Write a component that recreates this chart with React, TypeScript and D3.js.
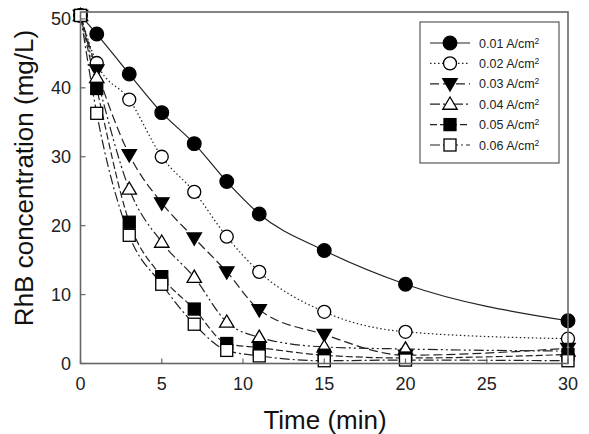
import React from "react";
import * as d3 from "d3";

// Sampling times (min)
const times = [0, 1, 3, 5, 7, 9, 11, 15, 20, 30];

// RhB concentration (mg/L) for each current density
const labels = ["0.01", "0.02", "0.03", "0.04", "0.05", "0.06"];
const s001 = [50.5, 47.8, 42.0, 36.4, 31.9, 26.4, 21.7, 16.4, 11.5, 6.2];
const s002 = [50.5, 43.6, 38.3, 30.0, 24.9, 18.4, 13.3, 7.5, 4.6, 3.6];
const s003 = [50.5, 42.6, 30.3, 23.3, 18.2, 13.3, 7.8, 4.2, 1.2, 2.2];
const s004 = [50.5, 41.5, 25.3, 17.6, 12.5, 6.0, 3.8, 2.4, 2.1, 1.8];
const s005 = [50.5, 39.9, 20.5, 12.6, 7.9, 2.9, 2.3, 1.2, 0.8, 1.3];
const s006 = [50.5, 36.3, 18.6, 11.5, 5.7, 1.9, 1.1, 0.4, 0.5, 0.4];
const seriesValues = [s001, s002, s003, s004, s005, s006];

const xTicks = [0, 5, 10, 15, 20, 25, 30];
const yTicks = [0, 10, 20, 30, 40, 50];

type MarkerKind = "circleFilled" | "circleOpen" | "triDown" | "triUp" | "squareFilled" | "squareOpen";
const markers: MarkerKind[] = ["circleFilled", "circleOpen", "triDown", "triUp", "squareFilled", "squareOpen"];
const dashes = ["", "1.5,2.5", "9,4", "10,3,2,3,2,3", "7,3", "10,3,2,3"];

const W = 589;
const H = 434;
const left = 80.5;
const right = 568;
const top = 12;
const bottom = 363.5;

const x = d3.scaleLinear().domain([0, 30]).range([left, right]);
const y = d3.scaleLinear().domain([0, 51]).range([bottom, top]);

function Marker({ kind, cx, cy }: { kind: MarkerKind; cx: number; cy: number }) {
  const sw = 1.3;
  switch (kind) {
    case "circleFilled":
      return <circle cx={cx} cy={cy} r={6.8} fill="#000" stroke="#000" strokeWidth={sw} />;
    case "circleOpen":
      return <circle cx={cx} cy={cy} r={6.5} fill="#fff" stroke="#000" strokeWidth={sw} />;
    case "triDown": {
      const s = 7.2;
      return (
        <path
          d={`M${cx - s},${cy - s * 0.7}L${cx + s},${cy - s * 0.7}L${cx},${cy + s}Z`}
          fill="#000"
          stroke="#000"
          strokeWidth={sw}
        />
      );
    }
    case "triUp": {
      const s = 7.2;
      return (
        <path
          d={`M${cx - s},${cy + s * 0.7}L${cx + s},${cy + s * 0.7}L${cx},${cy - s}Z`}
          fill="#fff"
          stroke="#000"
          strokeWidth={sw}
        />
      );
    }
    case "squareFilled":
      return <rect x={cx - 6} y={cy - 6} width={12} height={12} fill="#000" stroke="#000" strokeWidth={sw} />;
    case "squareOpen":
      return <rect x={cx - 6} y={cy - 6} width={12} height={12} fill="#fff" stroke="#000" strokeWidth={sw} />;
  }
}

export default function App() {
  const line = d3
    .line<number>()
    .x((_, i) => x(times[i]))
    .y((v) => y(v))
    .curve(d3.curveMonotoneX);

  const font = "Liberation Sans, Arial, sans-serif";
  const frame = "#666";

  const legX = 420;
  const legY = 22;
  const rowY = (i: number) => 43 + i * 20.4;

  return (
    <svg
      width={W}
      height={H}
      style={{ position: "absolute", left: 0, top: 0, background: "#fff" }}
      fontFamily={font}
    >
      <rect x={0} y={0} width={W} height={H} fill="#fff" />

      {/* series lines */}
      {seriesValues.map((vals, si) => (
        <path
          key={"l" + si}
          d={line(vals) ?? ""}
          fill="none"
          stroke="#222"
          strokeWidth={1.2}
          strokeDasharray={dashes[si]}
        />
      ))}

      {/* series markers */}
      {seriesValues.map((vals, si) => (
        <g key={"m" + si}>
          {vals.map((v, i) => (
            <Marker key={i} kind={markers[si]} cx={x(times[i])} cy={y(v)} />
          ))}
        </g>
      ))}

      {/* frame */}
      <rect
        x={left}
        y={top}
        width={right - left}
        height={bottom - top}
        fill="none"
        stroke={frame}
        strokeWidth={1.6}
      />

      {/* x ticks and labels */}
      {xTicks.map((t) => (
        <g key={"xt" + t}>
          <line x1={x(t)} x2={x(t)} y1={bottom} y2={bottom - 5} stroke={frame} strokeWidth={1.2} />
          <text x={x(t)} y={390} textAnchor="middle" fontSize={18} fill="#222">
            {t}
          </text>
        </g>
      ))}

      {/* y ticks and labels */}
      {yTicks.map((t) => (
        <g key={"yt" + t}>
          <line x1={left} x2={left + 5} y1={y(t)} y2={y(t)} stroke={frame} strokeWidth={1.2} />
          <text x={71} y={y(t)} dy="0.35em" textAnchor="end" fontSize={18} fill="#222">
            {t}
          </text>
        </g>
      ))}

      {/* axis titles */}
      <text x={325} y={429} textAnchor="middle" fontSize={26} fill="#111">
        Time (min)
      </text>
      <text
        transform={`translate(33, ${178}) rotate(-90)`}
        textAnchor="middle"
        fontSize={26}
        fill="#111"
      >
        RhB concentration (mg/L)
      </text>

      {/* legend */}
      <rect x={legX} y={legY} width={139} height={141} fill="#fff" stroke={frame} strokeWidth={1.3} />
      {labels.map((lab, i) => (
        <g key={"lg" + i}>
          <line
            x1={430}
            x2={470}
            y1={rowY(i)}
            y2={rowY(i)}
            stroke="#222"
            strokeWidth={1.2}
            strokeDasharray={dashes[i]}
          />
          <Marker kind={markers[i]} cx={450} cy={rowY(i)} />
          <text x={479} y={rowY(i)} dy="0.36em" fontSize={12.5} fill="#222">
            {lab} A/cm
            <tspan dy="-0.45em" fontSize={8.5}>
              2
            </tspan>
          </text>
        </g>
      ))}
    </svg>
  );
}
